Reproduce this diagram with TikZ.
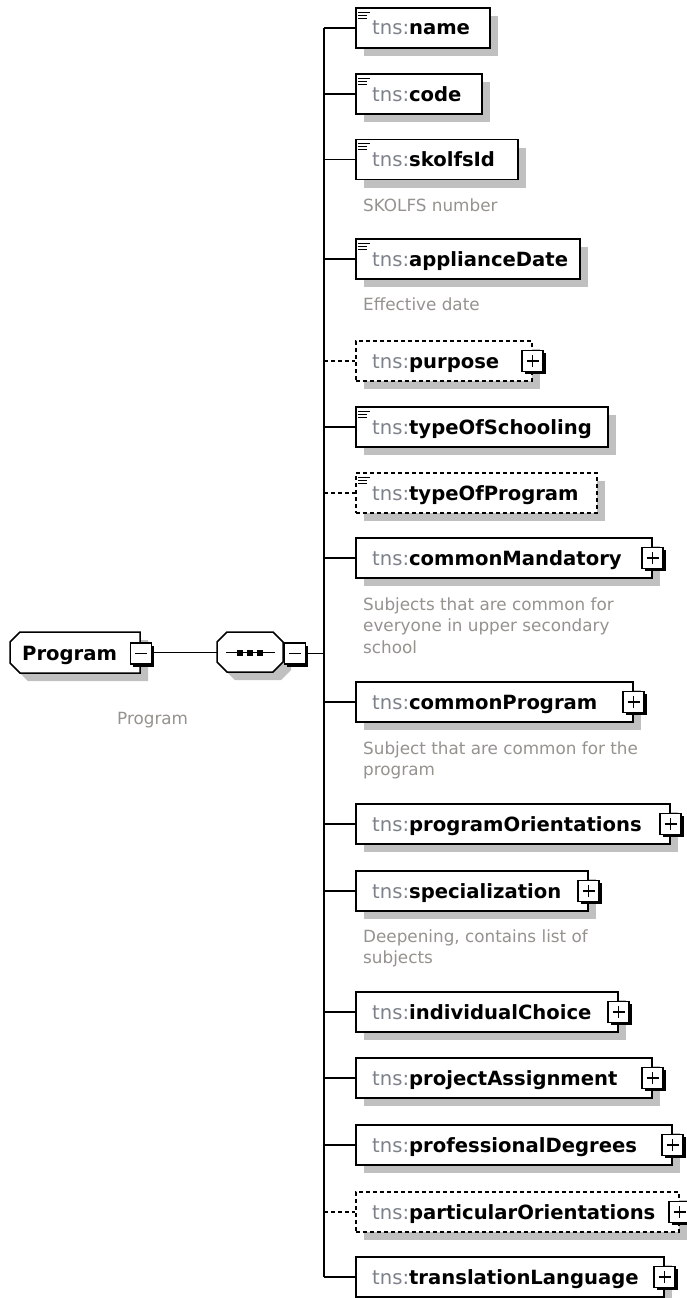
\documentclass[tikz,border=0pt]{standalone}
\usepackage{fontspec}
\setmainfont{DejaVu Sans}
\usetikzlibrary{shadows}
\definecolor{shgray}{RGB}{192,192,192}
\definecolor{tnsgray}{RGB}{125,130,138}
\definecolor{descgray}{RGB}{150,146,142}
\tikzset{
  elembox/.style={draw=black, line width=1.5pt, fill=white, minimum height=40pt, inner sep=0pt, anchor=west,
    drop shadow={shadow xshift=8pt, shadow yshift=-8pt, opacity=1, fill=shgray, draw=none}},
  optbox/.style={elembox, dash pattern=on 4pt off 3pt},
  elemtext/.style={anchor=base west, inner sep=0pt, font=\fontsize{19.6}{23}\selectfont},
  desctext/.style={anchor=base west, inner sep=0pt, font=\fontsize{16.8}{21.5}\selectfont, text=descgray, align=left},
  branch/.style={line width=1.5pt},
  optbranch/.style={line width=1.5pt, dash pattern=on 4pt off 3pt},
  pmbox/.style={draw=black, line width=1.2pt, fill=white, minimum size=21pt, inner sep=0pt,
    drop shadow={shadow xshift=2.5pt, shadow yshift=-2.5pt, opacity=1, fill=black, draw=none}},
  pmline/.style={line width=1.3pt},
  icon/.style={line width=1.3pt},
}
\newcommand\xelem[6]{%
  \node[#5, minimum width={(#3-355)*1pt}] (#1) at (355,#2) {};
  \node[elemtext] (#1t) at (372,#2+7) {\textcolor{tnsgray}{tns:}\textbf{#4}};
  \draw[#6] (trunk|-#1.west) -- (#1.west);
}
\newcommand\xicon[1]{%
  \draw[icon] ([shift={(3,5)}]#1.north west) -- +(12,0);
  \draw[icon] ([shift={(3,8)}]#1.north west) -- +(9,0);
  \draw[icon] ([shift={(3,11)}]#1.north west) -- +(9,0);
}
\newcommand\xplus[1]{%
  \node[pmbox] (#1p) at (#1.east) {};
  \draw[pmline] ([xshift=-6pt]#1p.center) -- ([xshift=6pt]#1p.center);
  \draw[pmline] ([yshift=-6pt]#1p.center) -- ([yshift=6pt]#1p.center);
}
\begin{document}
\begin{tikzpicture}[x=1pt,y=-1pt]
\useasboundingbox (0,0) rectangle (686,1298);
\fill[white] (0,0) rectangle (686,1298);
\coordinate (trunk) at (324,0);

% root element
\fill[shgray] (28,640) -- (148,640) -- (148,681) -- (28,681) -- (18,671) -- (18,650) -- cycle;
\draw[line width=1.5pt, fill=white] (20,632) -- (140,632) -- (140,673) -- (20,673) -- (10,663) -- (10,642) -- cycle;
\node[elemtext] (roott) at (22,660) {\textbf{Program}};
\node[pmbox] (rootm) at (141,653.5) {};
\draw[pmline] ([xshift=-6pt]rootm.center) -- ([xshift=6pt]rootm.center);
\node[desctext] (rootd) at (117,724) {Program};

% sequence compositor
\fill[shgray] (235,640) -- (281,640) -- (291,650) -- (291,670) -- (281,680) -- (235,680) -- (225,670) -- (225,650) -- cycle;
\draw[line width=1.5pt, fill=white] (227,632) -- (273,632) -- (283,642) -- (283,662) -- (273,672) -- (227,672) -- (217,662) -- (217,642) -- cycle;
\coordinate (seqW) at (217,652.5);
\draw[line width=1.4pt] (226,652.5) -- (275,652.5);
\foreach \sx in {240,250,260} \fill (\sx-2.8,650) rectangle (\sx+2.8,655.5);
\node[pmbox] (seqm) at (295,653.5) {};
\draw[pmline] ([xshift=-6pt]seqm.center) -- ([xshift=6pt]seqm.center);
\draw[branch] (rootm.east|-seqW) -- (seqW);
\draw[branch] (seqm.east) -- (trunk|-seqm.east);

% children
\xelem{e1}{28}{489}{name}{elembox}{branch}
\xicon{e1}
\xelem{e2}{94}{481}{code}{elembox}{branch}
\xicon{e2}
\xelem{e3}{159.5}{517}{skolfsId}{elembox}{branch}
\xicon{e3}
\node[desctext] (d3) at (363,211) {SKOLFS number};
\xelem{e4}{259}{579}{applianceDate}{elembox}{branch}
\xicon{e4}
\node[desctext] (d4) at (363,310) {Effective date};
\xelem{e5}{361}{531}{purpose}{optbox}{optbranch}
\xplus{e5}
\xelem{e6}{427}{607}{typeOfSchooling}{elembox}{branch}
\xicon{e6}
\xelem{e7}{493}{596}{typeOfProgram}{optbox}{optbranch}
\xicon{e7}
\xelem{e8}{558}{651}{commonMandatory}{elembox}{branch}
\xplus{e8}
\node[desctext] (d8) at (363,653) {Subjects that are common for\\everyone in upper secondary\\school};
\xelem{e9}{702}{632}{commonProgram}{elembox}{branch}
\xplus{e9}
\node[desctext] (d9) at (363,775.5) {Subject that are common for the\\program};
\xelem{e10}{824}{669}{programOrientations}{elembox}{branch}
\xplus{e10}
\xelem{e11}{891}{587}{specialization}{elembox}{branch}
\xplus{e11}
\node[desctext] (d11) at (363,963.5) {Deepening, contains list of\\subjects};
\xelem{e12}{1012}{617}{individualChoice}{elembox}{branch}
\xplus{e12}
\xelem{e13}{1078}{651}{projectAssignment}{elembox}{branch}
\xplus{e13}
\xelem{e14}{1145}{671}{professionalDegrees}{elembox}{branch}
\xplus{e14}
\xelem{e15}{1212}{678}{particularOrientations}{optbox}{optbranch}
\xplus{e15}
\xelem{e16}{1277}{663}{translationLanguage}{elembox}{branch}
\xplus{e16}

\draw[branch] (trunk|-e1.west) -- (trunk|-e16.west);
\end{tikzpicture}
\end{document}
